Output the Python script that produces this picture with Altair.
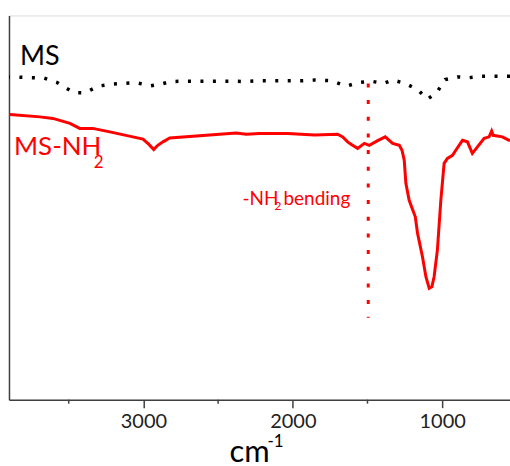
import altair as alt
import pandas as pd

# MS (dotted black) spectrum: wavenumber (cm-1) and relative transmittance
ms_wn = [3900, 3871, 3748, 3666, 3581, 3504, 3464, 3388, 3303, 3219, 3136, 3051, 2951, 2886,
         2818, 2722, 2617, 2510, 2408, 2323, 2245, 2134, 2056, 1944, 1849, 1742, 1642, 1563,
         1477, 1394, 1332, 1247, 1165, 1098, 1035, 980, 898, 818, 735, 659, 574, 546]
ms_t = [84.0, 84.0, 83.8, 83.7, 82.6, 80.8, 79.9, 79.9, 81.6, 82.1, 82.3, 82.5, 81.7, 82.1,
        82.8, 82.9, 82.9, 82.9, 82.9, 82.8, 83.0, 83.0, 83.0, 83.0, 83.2, 83.0, 81.6, 82.5,
        82.9, 82.3, 83.2, 82.3, 80.7, 78.2, 80.0, 83.3, 84.0, 83.8, 84.2, 84.2, 84.2, 84.2]

# MS-NH2 (solid red) spectrum
nh_wn = [3900, 3893, 3693, 3606, 3492, 3426, 3372, 3339, 3225, 3071, 3003, 2965, 2931, 2904,
         2869, 2824, 2646, 2379, 2312, 2223, 2034, 1855, 1700, 1666, 1633, 1608, 1566, 1521,
         1488, 1432, 1381, 1332, 1287, 1269, 1254, 1243, 1221, 1180, 1165, 1132, 1109, 1087,
         1069, 1054, 1032, 1009, 987, 965, 931, 909, 864, 831, 798, 764, 719, 686, 669, 659,
         641, 597, 552, 546]
nh_t = [74.2, 74.2, 73.6, 73.2, 71.9, 70.6, 70.6, 70.6, 69.7, 68.4, 67.8, 66.5, 65.1, 66.2,
        67.1, 68.1, 68.6, 69.4, 69.1, 69.3, 69.3, 68.9, 69.1, 68.4, 67.1, 66.4, 65.4, 66.7,
        66.2, 67.4, 68.4, 66.7, 66.2, 64.9, 62.3, 56.3, 51.9, 47.6, 43.3, 37.2, 32.0, 29.0,
        29.4, 32.0, 39.0, 51.9, 61.5, 62.8, 63.6, 64.9, 67.5, 67.1, 64.1, 65.8, 68.0, 68.4,
        69.9, 68.8, 68.7, 68.4, 67.5, 67.4]

major_ticks = [3000, 2000, 1000]
minor_ticks = [3500, 2500, 1500]
marker_wn = [1495]
marker_t = [82.3, 21.3]

FONT = "Lato"
FRAME = "#404040"

W, H = 502, 385
xscale = alt.Scale(domain=[546, 3900], reverse=True, nice=False, zero=False)
yscale = alt.Scale(domain=[0, 100], nice=False, zero=False)

ms_df = pd.DataFrame({"wn": ms_wn, "t": ms_t})
nh_df = pd.DataFrame({"wn": nh_wn, "t": nh_t})
mk_df = pd.DataFrame({"wn": marker_wn * 2, "t": marker_t})
minor_df = pd.DataFrame({"wn": minor_ticks})

xaxis = alt.Axis(values=major_ticks, format="d", title=None, labelFontSize=20, labelFont=FONT,
                 labelColor="#222222", tickSize=8, tickWidth=1.5, tickColor=FRAME,
                 domainColor=FRAME, domainWidth=1.5, labelPadding=4, grid=False)
yaxis = alt.Axis(labels=False, ticks=False, title=None, grid=False, domainColor=FRAME,
                 domainWidth=1.5)

ms_line = alt.Chart(ms_df).mark_line(color="black", strokeWidth=3.5, strokeDash=[3, 9.5]).encode(
    x=alt.X("wn:Q", scale=xscale, axis=xaxis),
    y=alt.Y("t:Q", scale=yscale, axis=yaxis),
    order="wn:Q",
)
nh_line = alt.Chart(nh_df).mark_line(color="#ff0000", strokeWidth=3).encode(
    x=alt.X("wn:Q", scale=xscale),
    y=alt.Y("t:Q", scale=yscale),
)
marker = alt.Chart(mk_df).mark_line(color="#ff0000", strokeWidth=3, strokeDash=[4, 12.7]).encode(
    x=alt.X("wn:Q", scale=xscale),
    y=alt.Y("t:Q", scale=yscale),
)
minor = alt.Chart(minor_df).mark_rule(color=FRAME, strokeWidth=1.5).encode(
    x=alt.X("wn:Q", scale=xscale),
    y=alt.value(H),
    y2=alt.value(H + 4),
)

def txt(s, x, y, size, color, align="left"):
    return alt.Chart(pd.DataFrame({"s": [s]})).mark_text(
        align=align, baseline="alphabetic", font=FONT, fontSize=size, color=color
    ).encode(text="s:N", x=alt.value(x - 9), y=alt.value(y - 15))

labels = [
    txt("MS", 20, 65, 27, "black"),
    txt("MS-NH", 14, 155, 26, "#ff0000"),
    txt("2", 94, 168, 17, "#ff0000"),
    txt("-NH", 243, 205, 19, "#ff0000"),
    txt("2", 275, 210, 12, "#ff0000"),
    txt("bending", 284, 205, 19, "#ff0000"),
    txt("cm", 230, 462, 31, "black"),
    txt("-1", 268, 447, 17, "black"),
]

chart = alt.layer(ms_line, nh_line, marker, minor, *labels).properties(
    width=W, height=H,
    padding={"left": 9, "top": 15, "right": 0, "bottom": 66},
    autosize=alt.AutoSizeParams(type="none"),
).configure_view(stroke=FRAME, strokeWidth=1.5).configure(background="white")

chart.save("out.html", embed_options={"renderer": "svg", "actions": False})
